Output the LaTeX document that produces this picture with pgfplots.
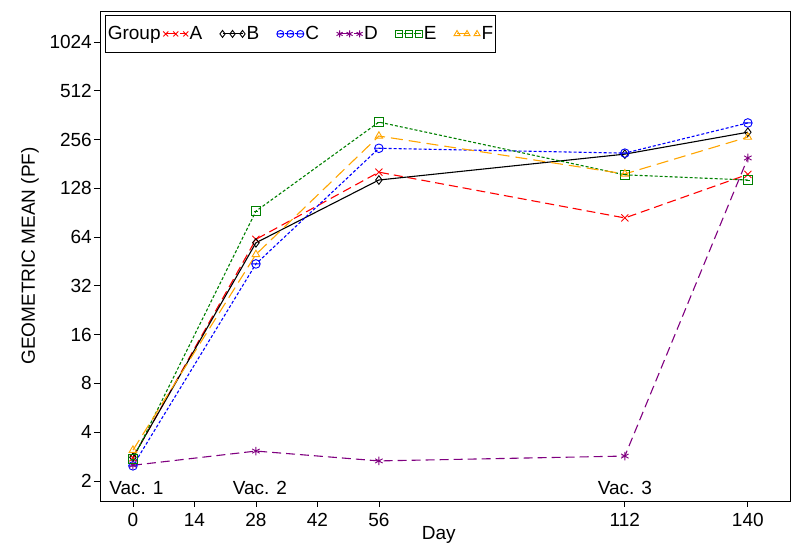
\documentclass[border=0pt]{standalone}
\usepackage{pgfplots}
\pgfplotsset{compat=1.18}
\usepackage{fontspec}
\setmainfont{Liberation Sans}
\definecolor{cA}{RGB}{255,0,0}
\definecolor{cB}{RGB}{0,0,0}
\definecolor{cC}{RGB}{0,0,255}
\definecolor{cD}{RGB}{128,0,128}
\definecolor{cE}{RGB}{0,128,0}
\definecolor{cF}{RGB}{255,165,0}
\pgfdeclareplotmark{ominus}{%
  \pgfpathcircle{\pgfpointorigin}{\pgfplotmarksize}%
  \pgfpathmoveto{\pgfpoint{-\pgfplotmarksize}{0pt}}%
  \pgfpathlineto{\pgfpoint{\pgfplotmarksize}{0pt}}%
  \pgfusepathqstroke}
\pgfdeclareplotmark{sminus}{%
  \pgfpathrectangle{\pgfpoint{-\pgfplotmarksize}{-\pgfplotmarksize}}{\pgfpoint{2\pgfplotmarksize}{2\pgfplotmarksize}}%
  \pgfpathmoveto{\pgfpoint{-0.5\pgfplotmarksize}{0pt}}%
  \pgfpathlineto{\pgfpoint{0.5\pgfplotmarksize}{0pt}}%
  \pgfusepathqstroke}
\begin{document}
\fontsize{19bp}{22bp}\selectfont
\begin{tikzpicture}
\useasboundingbox (0,0) rectangle (800bp,556bp);
\begin{axis}[
  at={(100bp,55bp)}, anchor=south west,
  scale only axis, width=690bp, height=490bp,
  font=\fontsize{19bp}{22bp}\selectfont,
  /pgf/number format/assume math mode=true,
  xmin=-7.5, xmax=149.6,
  ymode=log, log basis y=2,
  ymin=1.505, ymax=1590,
  xtick={0,14,28,42,56,112,140},
  xticklabels={0,14,28,42,56,112,140},
  ytick={2,4,8,16,32,64,128,256,512,1024},
  yticklabels={2,4,8,16,32,64,128,256,512,1024},
  tick pos=left, tick align=outside,
  major tick length=6bp,
  tick style={black, line width=0.8bp},
  axis line style={line width=0.9bp},
  xticklabel style={yshift=-4bp},
  xlabel={Day},
  ylabel={GEOMETRIC MEAN (PF)},
  xlabel style={at={(axis description cs:0.491,-0.0694)}, anchor=center},
  ylabel style={at={(axis description cs:-0.1014,0.5)}, anchor=center},
  every tick label/.append style={inner sep=2bp},
  legend columns=-1,
  legend style={at={(axis description cs:0.007,0.992)}, anchor=north west,
    draw=black, line width=0.9bp, inner xsep=1bp, inner ysep=9bp,
    font=\fontsize{19bp}{22bp}\selectfont,
    nodes={inner sep=1.5bp},
    /tikz/every even column/.append style={column sep=16bp},
    /tikz/every odd column/.append style={column sep=0bp}},
  legend image code/.code={%
    \draw[#1, mark size=3.5bp, mark repeat=1, mark phase=1] plot coordinates {(0bp,0bp) (10bp,0bp) (20bp,0bp)};},
  every axis plot/.append style={line width=1.1bp, mark size=4.3bp, mark options={solid, line width=0.9bp}},
]
\addlegendimage{empty legend}
\addlegendentry{\makebox[38bp][l]{Group}}
\addplot[color=cA, dash pattern=on 9bp off 5bp, mark=x, mark size=5bp] coordinates {(0,2.78) (28,62) (56,161) (112,84) (140,156)};
\addlegendentry{A}
\addplot[color=cB, solid, mark=diamond] coordinates {(0,2.8) (28,59) (56,144) (112,208) (140,284)};
\addlegendentry{B}
\addplot[color=cC, dash pattern=on 3bp off 2bp, mark=ominus] coordinates {(0,2.48) (28,43.7) (56,226) (112,211) (140,324)};
\addlegendentry{C}
\addplot[color=cD, dash pattern=on 9bp off 5bp, mark=asterisk] coordinates {(0,2.5) (28,3.06) (56,2.66) (112,2.85) (140,197)};
\addlegendentry{D}
\addplot[color=cE, dash pattern=on 3bp off 2bp, mark=sminus] coordinates {(0,2.73) (28,92.5) (56,328) (112,155) (140,144)};
\addlegendentry{E}
\addplot[color=cF, dash pattern=on 12bp off 6bp, mark=triangle] coordinates {(0,3.1) (28,50) (56,269) (112,157) (140,265)};
\addlegendentry{F}
\node at (axis cs:0.8,1.81) {Vac. 1};
\node at (axis cs:28.9,1.81) {Vac. 2};
\node at (axis cs:112,1.81) {Vac. 3};
\end{axis}
\end{tikzpicture}
\end{document}
